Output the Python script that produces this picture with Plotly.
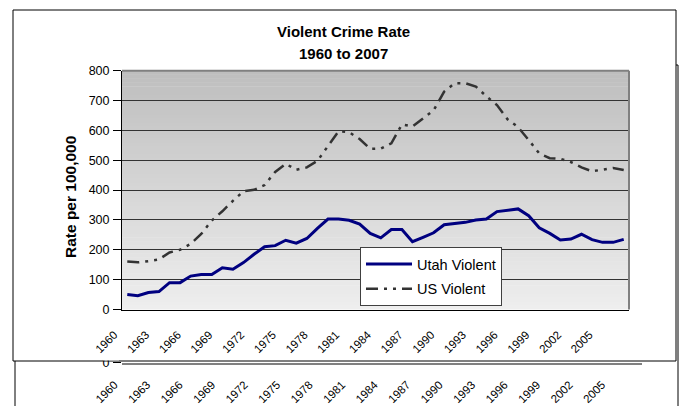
import plotly.graph_objects as go

years = list(range(1960, 2008))
utah_violent = [50, 46, 57, 60, 90, 90, 112, 117, 117, 140,
                135, 157, 185, 210, 214, 232, 222, 238, 272, 303,
                303, 299, 286, 255, 240, 268, 268, 227, 242, 257,
                284, 289, 292, 300, 303, 328, 332, 337, 314, 274,
                255, 233, 236, 252, 234, 225, 225, 235]
us_violent = [161, 158, 162, 168, 191, 200, 220, 253, 298, 329,
              364, 396, 401, 417, 461, 488, 468, 476, 498, 549,
              597, 594, 571, 538, 539, 557, 620, 613, 641, 667,
              730, 758, 758, 747, 714, 685, 637, 611, 568, 523,
              507, 505, 494, 476, 463, 469, 474, 467]
tick_years = years[::3]
tick_labels = [str(y) for y in tick_years]
y_ticks = list(range(0, 900, 100))

W, H = 683, 406
FONT = "Liberation Sans, Arial, sans-serif"

def px(x):
    return x / W

def py(y):
    return 1 - y / H

fig = go.Figure()
fig.add_trace(go.Scatter(x=years, y=utah_violent, name="Utah Violent", mode="lines",
                         line=dict(color="#000080", width=3), legendgroup="a"))
fig.add_trace(go.Scatter(x=years, y=us_violent, name="US Violent", mode="lines",
                         line=dict(color="#333333", width=2.5, dash="12px,6px,3px,6px,3px,6px"),
                         legendgroup="b"))
# hidden copy of the chart behind (only its axis shows)
fig.add_trace(go.Scatter(x=years, y=utah_violent, xaxis="x2", yaxis="y2", mode="lines",
                         line=dict(color="#000080", width=1), opacity=0, showlegend=False,
                         hoverinfo="skip"))

shapes = []
# behind frame
shapes.append(dict(type="rect", xref="paper", yref="paper", x0=px(15), x1=px(678),
                   y0=-0.1, y1=py(65), line=dict(color="black", width=1),
                   fillcolor="white", layer="below"))
# front frame
shapes.append(dict(type="rect", xref="paper", yref="paper", x0=px(13), x1=px(676),
                   y0=py(361), y1=py(10), line=dict(color="black", width=1),
                   fillcolor="white", layer="below"))
# gradient bands
N = 60
top_c, bot_c = 190, 238
for i in range(N):
    f = (i + 0.5) / N
    c = round(bot_c + (top_c - bot_c) * f)
    shapes.append(dict(type="rect", xref="x domain", yref="y domain", x0=0, x1=1,
                       y0=i / N, y1=(i + 1) / N + 0.002,
                       line=dict(width=0), fillcolor=f"rgb({c},{c},{c})", layer="below"))
# plot area top & right border (gray)
shapes.append(dict(type="line", xref="x domain", yref="y domain", x0=0, x1=1, y0=1, y1=1,
                   line=dict(color="#808080", width=2), layer="above"))
shapes.append(dict(type="line", xref="x domain", yref="y domain", x0=1, x1=1, y0=0, y1=1,
                   line=dict(color="#808080", width=2), layer="above"))
# front frame hides the top of the behind chart's "0" label
shapes.append(dict(type="rect", xref="paper", yref="paper", x0=px(103), x1=px(119),
                   y0=py(360.4), y1=py(354), line=dict(width=0), fillcolor="white",
                   layer="above"))

annotations = [
    dict(text="<b>Violent Crime Rate</b>", xref="paper", yref="paper", x=px(343.5), y=py(31.5),
         xanchor="center", yanchor="middle", showarrow=False, font=dict(size=15, color="black", family=FONT)),
    dict(text="<b>1960 to 2007</b>", xref="paper", yref="paper", x=px(343.5), y=py(53),
         xanchor="center", yanchor="middle", showarrow=False, font=dict(size=15, color="black", family=FONT)),
    dict(text="<b>Rate per 100,000</b>", xref="paper", yref="paper", x=px(70), y=py(197),
         xanchor="center", yanchor="middle", textangle=-90, showarrow=False,
         font=dict(size=15.5, color="black", family=FONT)),
]

xtick_common = dict(tickmode="array", tickvals=tick_years, ticktext=tick_labels, tickangle=-45,
                    showgrid=False, zeroline=False, ticks="", ticklabelshift=-13,
                    automargin=False, tickfont=dict(size=11.5, family=FONT, color="black"))

fig.update_layout(
    template="none",
    width=W, height=H, margin=dict(l=0, r=0, t=0, b=0, pad=0, autoexpand=False),
    paper_bgcolor="white", plot_bgcolor="rgba(0,0,0,0)",
    font=dict(family=FONT, color="black"),
    showlegend=True,
    legend=dict(x=px(360), y=py(247), xanchor="left", yanchor="top",
                bgcolor="white", bordercolor="#404040", borderwidth=1,
                font=dict(size=14.5, family=FONT, color="black"),
                tracegroupgap=3, itemwidth=46),
    xaxis=dict(domain=[px(122), px(629)], range=[1959.5, 2007.5], anchor="y",
               showline=True, linecolor="black", linewidth=1, ticklabelstandoff=13,
               **xtick_common),
    yaxis=dict(domain=[py(309.5), py(70.7)], range=[0, 800], anchor="x", automargin=False,
               tickmode="array", tickvals=y_ticks, showgrid=True, gridcolor="#333333", gridwidth=1,
               zeroline=False, showline=True, linecolor="black", linewidth=1,
               ticks="outside", ticklen=8, tickcolor="black", ticklabelstandoff=1,
               tickfont=dict(size=12.5, family=FONT, color="black")),
    xaxis2=dict(domain=[px(122), px(642)], range=[1959.5, 2007.5], anchor="y2",
                showline=True, linecolor="#808080", linewidth=2, ticklabelstandoff=9,
                **xtick_common),
    yaxis2=dict(domain=[py(362.5), py(356)], range=[0, 10], anchor="x2", automargin=False,
                tickmode="array", tickvals=[0], showgrid=False, zeroline=False, showline=False,
                ticks="outside", ticklen=8, tickcolor="black", ticklabelstandoff=1,
                tickfont=dict(size=12.5, family=FONT, color="black")),
    shapes=shapes,
    annotations=annotations,
)

fig.write_html("out.html")
